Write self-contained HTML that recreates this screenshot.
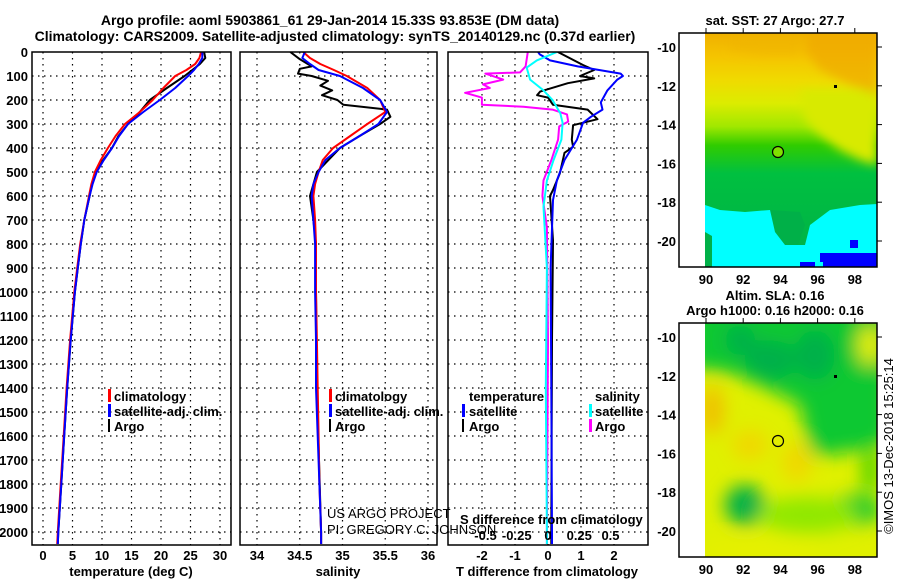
<!DOCTYPE html>
<html><head><meta charset="utf-8">
<style>
html,body{margin:0;padding:0;background:#fff;}
svg{display:block;font-family:"Liberation Sans",Arial,sans-serif;font-weight:bold;}
</style></head>
<body>
<svg id="fig" width="900" height="580" viewBox="0 0 900 580" xmlns="http://www.w3.org/2000/svg">
<defs>
 <clipPath id="c1"><rect x="32" y="52" width="199" height="493"/></clipPath>
 <clipPath id="c2"><rect x="240" y="52" width="197" height="493"/></clipPath>
 <clipPath id="c3"><rect x="448" y="52" width="200" height="493"/></clipPath>
 <clipPath id="m1"><rect x="705" y="33" width="172" height="234"/></clipPath>
 <clipPath id="m2"><rect x="705" y="323" width="172" height="234"/></clipPath>
 <linearGradient id="sstg" x1="0" y1="0" x2="0" y2="1">
  <stop offset="0" stop-color="#f0b000"/><stop offset="0.1" stop-color="#f5c400"/>
  <stop offset="0.2" stop-color="#f0da00"/><stop offset="0.3" stop-color="#dcec00"/>
  <stop offset="0.4" stop-color="#a0e800"/><stop offset="0.48" stop-color="#30cc00"/>
  <stop offset="0.6" stop-color="#00c040"/><stop offset="1" stop-color="#00b048"/>
 </linearGradient>
 <filter id="blur"><feGaussianBlur stdDeviation="9"/></filter>
 <filter id="blur3"><feGaussianBlur stdDeviation="5"/></filter>
</defs>
<g id="titles" font-size="14">
 <text x="330" y="25" text-anchor="middle">Argo profile: aoml 5903861_61 29-Jan-2014 15.33S 93.853E (DM data)</text>
 <text x="335" y="41" text-anchor="middle">Climatology: CARS2009. Satellite-adjusted climatology: synTS_20140129.nc (0.37d earlier)</text>
</g>
<g id="grid"></g>
<g id="lines"></g>
<g id="frames" fill="none" stroke="#000" stroke-width="1.5">
 <rect x="32" y="52" width="199" height="493"/>
 <rect x="240" y="52" width="197" height="493"/>
 <rect x="448" y="52" width="200" height="493"/>
</g>
<g id="axes" font-size="13"></g>
<g id="legends" font-size="13">
 <g>
  <rect x="108" y="389" width="3" height="13" fill="#f00"/><text x="114" y="401">climatology</text>
  <rect x="108" y="404" width="3" height="13" fill="#00f"/><text x="114" y="416">satellite-adj. clim.</text>
  <rect x="108" y="419" width="2" height="13" fill="#000"/><text x="114" y="431">Argo</text>
 </g>
 <g>
  <rect x="329" y="389" width="3" height="13" fill="#f00"/><text x="335" y="401">climatology</text>
  <rect x="329" y="404" width="3" height="13" fill="#00f"/><text x="335" y="416">satellite-adj. clim.</text>
  <rect x="329" y="419" width="2" height="13" fill="#000"/><text x="335" y="431">Argo</text>
 </g>
 <g>
  <text x="469" y="401">temperature</text>
  <rect x="462" y="404" width="3" height="13" fill="#00f"/><text x="469" y="416">satellite</text>
  <rect x="462" y="419" width="2" height="13" fill="#000"/><text x="469" y="431">Argo</text>
  <text x="595" y="401">salinity</text>
  <rect x="589" y="404" width="3" height="13" fill="#0ff"/><text x="595" y="416">satellite</text>
  <rect x="589" y="419" width="3" height="13" fill="#f0f"/><text x="595" y="431">Argo</text>
 </g>
 <g font-weight="normal" font-size="13">
  <text x="327" y="518">US ARGO PROJECT</text>
  <text x="327" y="534">PI: GREGORY C. JOHNSON</text>
 </g>
 <text x="460" y="524">S difference from climatology</text>
</g>

<!-- Map 1 SST -->
<g>
 <text x="775" y="25" text-anchor="middle" font-size="13">sat. SST: 27 Argo: 27.7</text>
 <g clip-path="url(#m1)">
  <rect x="705" y="33" width="172" height="234" fill="url(#sstg)"/>
  <g filter="url(#blur3)">
   <polygon points="800,90 877,90 877,165 860,160 840,150 820,135 805,120" fill="#d8ea00"/>
   <polygon points="810,33 877,33 877,95 850,85 820,70 805,50" fill="#f0a800" opacity="0.7"/>
   <polygon points="730,33 800,33 800,55 760,55 730,50" fill="#f0b400" opacity="0.6"/>
  </g>
  <polygon points="705,205 720,210 745,212 770,210 780,215 775,230 790,245 805,245 810,225 830,210 860,205 877,204 877,267 705,267" fill="#00ffff"/>
  <polygon points="770,210 800,212 805,225 798,245 785,245 775,232" fill="#00b048"/>
  <polygon points="705,232 712,236 712,267 705,267" fill="#00b048"/>
  <rect x="820" y="253" width="57" height="9" fill="#0000ff"/>
  <rect x="850" y="240" width="8" height="8" fill="#0000ff"/>
  <rect x="800" y="262" width="15" height="5" fill="#0000ff"/>
  <rect x="823" y="262" width="54" height="5" fill="#0000ff"/>
  <rect x="834" y="85" width="3" height="3" fill="#000"/>
 </g>
 <circle id="argo-pos-1" cx="778" cy="152" r="5.5" fill="#80e000" stroke="#000" stroke-width="1.2"/>
 <rect x="679" y="33" width="198" height="234" fill="none" stroke="#000" stroke-width="1.5"/>
</g>

<!-- Map 2 SLA -->
<g>
 <text x="775" y="300" text-anchor="middle" font-size="13">Altim. SLA: 0.16</text>
 <text x="775" y="315" text-anchor="middle" font-size="13">Argo h1000: 0.16 h2000: 0.16</text>
 <g clip-path="url(#m2)">
  <rect x="705" y="323" width="172" height="234" fill="#e0f000"/>
  <g filter="url(#blur)">
   <polygon points="690,300 890,300 890,440 860,450 830,455 812,455 805,430 800,405 780,395 760,385 735,375 710,370 690,370" fill="#10c830"/>
   <ellipse cx="770" cy="360" rx="25" ry="20" fill="#00b048"/>
   <ellipse cx="815" cy="355" rx="20" ry="25" fill="#00b048"/>
   <ellipse cx="740" cy="340" rx="15" ry="15" fill="#00b048"/>
   <ellipse cx="745" cy="505" rx="20" ry="20" fill="#00b048"/>
   <ellipse cx="855" cy="510" rx="25" ry="15" fill="#00c830"/>
   <ellipse cx="808" cy="515" rx="50" ry="18" fill="#90e800"/>
   <ellipse cx="870" cy="345" rx="12" ry="20" fill="#e8f000"/>
   <ellipse cx="870" cy="470" rx="8" ry="25" fill="#40d000"/>
   <ellipse cx="712" cy="410" rx="12" ry="25" fill="#f0c000"/>
   <ellipse cx="750" cy="445" rx="18" ry="15" fill="#f0d800"/>
   <ellipse cx="797" cy="462" rx="15" ry="20" fill="#f0d800"/>
   <ellipse cx="760" cy="550" rx="60" ry="8" fill="#e8f000"/>
  </g>
  <rect x="834" y="375" width="3" height="3" fill="#000"/>
 </g>
 <circle cx="778" cy="441" r="5.5" fill="none" stroke="#000" stroke-width="1.2"/>
 <rect x="679" y="323" width="198" height="234" fill="none" stroke="#000" stroke-width="1.5"/>
 <text transform="translate(893,446) rotate(-90)" text-anchor="middle" font-size="13" font-weight="normal">©IMOS 13-Dec-2018 15:25:14</text>
</g>
<g id="mapaxes" font-size="13"></g>

<script>
const NS='http://www.w3.org/2000/svg';
const depthTicks=[0,100,200,300,400,500,600,700,800,900,1000,1100,1200,1300,1400,1500,1600,1700,1800,1900,2000];
const tempTicks=[0,5,10,15,20,25,30];
const salTicks=[34,34.5,35,35.5,36];
const salTickLabels=['34','34.5','35','35.5','36'];
const tDiffTicks=[-2,-1,0,1,2];
const sDiffTicks=[-0.5,-0.25,0,0.25,0.5];
const sDiffLabels=['-0.5','-0.25','0','0.25','0.5'];

const profDepth=[0,25,50,75,100,150,200,250,300,350,400,450,500,550,600,700,800,900,1000,1200,1400,1600,1800,2000,2050];
const tClim=[26.8,26.5,25.8,24.3,22.4,20.4,18.6,16.4,13.9,12.3,11.0,9.8,8.8,8.2,7.8,7.0,6.3,5.8,5.3,4.6,4.0,3.5,3.0,2.5,2.4];
const tSat=[27.0,27.0,26.4,25.6,24.6,22.4,19.8,17.0,14.4,12.9,11.7,10.3,9.1,8.4,7.9,7.0,6.4,5.9,5.4,4.7,4.1,3.6,3.1,2.6,2.5];
const tArgo=[27.3,27.5,26.6,25.3,24.0,21.0,18.1,16.4,14.4,12.8,11.7,10.2,9.0,8.3,7.9,7.0,6.4,5.9,5.4,4.7,4.1,3.6,3.1,2.6,2.5];
const sClim=[34.54,34.62,34.74,34.90,35.05,35.29,35.44,35.50,35.29,35.09,34.89,34.77,34.72,34.68,34.66,34.68,34.69,34.69,34.69,34.70,34.71,34.72,34.73,34.75,34.75];
const sSat=[34.56,34.53,34.62,34.72,34.97,35.24,35.44,35.52,35.42,35.20,34.97,34.80,34.72,34.66,34.64,34.66,34.68,34.68,34.68,34.69,34.69,34.71,34.73,34.75,34.75];
const sArgoDepth=[0,30,60,70,90,100,120,140,160,180,200,220,240,270,300,350,400,500,600,700,800,1000,1400,2000,2050];
const sArgo=[34.39,34.50,34.64,34.50,34.48,34.64,34.83,34.74,34.88,34.76,34.94,35.01,35.52,35.56,35.44,35.20,34.97,34.70,34.62,34.66,34.69,34.69,34.70,34.75,34.75];
const dTArgoDepth=[0,54,75,100,110,130,165,180,190,220,240,280,305,365,395,420,505,575,600,785,1200,2000,2050];
const dTArgo=[0.3,1.06,1.4,0.97,1.4,0.6,-0.24,-0.33,0,0.15,1.2,1.5,0.76,0.72,0.76,0.5,0.36,0.15,0.06,0.15,0.12,0.1,0.1];
const dTSatDepth=[0,10,35,60,90,100,115,160,210,240,270,295,365,450,535,617,900,1400,2000,2050];
const dTSat=[-0.3,-0.25,0.06,0.9,2.2,2.27,2.1,1.8,1.6,1.65,1.3,1.06,0.88,0.5,0.27,0.15,0.08,0.1,0.12,0.12];
const dSArgoDepth=[0,60,85,90,115,135,150,170,190,220,228,240,260,290,310,365,450,535,600,730,1200,2000,2050];
const dSArgo=[-0.18,-0.2,-0.25,-0.56,-0.4,-0.58,-0.52,-0.74,-0.59,-0.59,-0.22,0.04,0.17,0.18,0.1,0.09,0.03,-0.04,-0.05,-0.01,0,-0.01,-0.01];
const dSSatDepth=[0,35,65,115,160,200,255,295,365,450,535,645,900,1400,2000,2050];
const dSSat=[0.08,-0.1,-0.19,-0.16,-0.04,0.04,0.11,0.13,0.12,0.05,-0.01,-0.04,-0.01,-0.02,-0.01,-0.01];
const latTicks=[-10,-12,-14,-16,-18,-20];
const lonTicks=[90,92,94,96,98];

const yD=d=>52+d*0.24;
const xT=t=>43+t*5.9;
const xS=s=>257+(s-34)*85.5;
const xDT=v=>548+v*33;
const xDS=v=>548+v*112;
const xDSLabel=v=>548+v*125;
const mapX=lon=>706+(lon-90)*18.6;
const mapY1=lat=>47+(-10-lat)*19.4;
const mapY2=lat=>337+(-10-lat)*19.4;

function el(tag,attrs,parent,txt){const e=document.createElementNS(NS,tag);for(const k in attrs)e.setAttribute(k,attrs[k]);if(txt!==undefined)e.textContent=txt;parent.appendChild(e);return e;}
const grid=document.getElementById('grid'), lines=document.getElementById('lines'), axes=document.getElementById('axes'), mapaxes=document.getElementById('mapaxes');
const panels=[[32,231],[240,437],[448,648]];
depthTicks.forEach(d=>{
  if(d>0) panels.forEach(p=>{const l=el('line',{x1:p[0],x2:p[1],y1:yD(d),y2:yD(d),stroke:'#000','stroke-dasharray':'1.5,4.5','stroke-width':1.2},grid);
    
    });
  const t=el('text',{x:28,y:yD(d)+5,'text-anchor':'end'},axes,String(d));
  
  
});
function vgrid(x){const l=el('line',{x1:x,x2:x,y1:52,y2:545,stroke:'#000','stroke-dasharray':'1.5,4.5','stroke-width':1.2},grid);
  
  }
tempTicks.forEach(t=>{vgrid(xT(t));const e=el('text',{x:xT(t),y:560,'text-anchor':'middle'},axes,String(t));
  
  });
salTicks.forEach((s,i)=>{vgrid(xS(s));const e=el('text',{x:xS(s),y:560,'text-anchor':'middle'},axes,salTickLabels[i]);
  
  });
tDiffTicks.forEach(v=>{vgrid(xDT(v));const e=el('text',{x:xDT(v),y:560,'text-anchor':'middle'},axes,String(v));
  
  });
sDiffTicks.forEach((v,i)=>{const e=el('text',{x:xDSLabel(v),y:540,'text-anchor':'middle'},axes,sDiffLabels[i]);
  
  });
[['temperature (deg C)',131,'temperature-axis-title'],['salinity',338,'salinity-axis-title'],['T difference from climatology',547,'t-difference-axis-title']].forEach(a=>{
  const e=el('text',{x:a[1],y:576,'text-anchor':'middle'},axes,a[0]);
  
  });

function series(depths,vals,xf,color,clip,name){
  const pts=depths.map((d,i)=>xf(vals[i]).toFixed(1)+','+yD(d).toFixed(1)).join(' ');
  const p=el('polyline',{points:pts,fill:'none',stroke:color,'stroke-width':2,'clip-path':'url(#'+clip+')','stroke-linejoin':'round'},lines);
  
  
}
series(profDepth,tArgo,xT,'#000','c1','temperature-argo-line');
series(profDepth,tClim,xT,'#f00','c1','temperature-climatology-line');
series(profDepth,tSat,xT,'#00f','c1','temperature-satellite-line');
series(sArgoDepth,sArgo,xS,'#000','c2','salinity-argo-line');
series(profDepth,sClim,xS,'#f00','c2','salinity-climatology-line');
series(profDepth,sSat,xS,'#00f','c2','salinity-satellite-line');
series(dSArgoDepth,dSArgo,xDS,'#f0f','c3','s-diff-argo-line');
series(dTArgoDepth,dTArgo,xDT,'#000','c3','t-diff-argo-line');
series(dTSatDepth,dTSat,xDT,'#00f','c3','t-diff-satellite-line');
series(dSSatDepth,dSSat,xDS,'#0ff','c3','s-diff-satellite-line');

[[mapY1,267],[mapY2,557]].forEach(m=>{
  latTicks.forEach(l=>{const y=m[0](l);
    const t=el('text',{x:676,y:y+5,'text-anchor':'end'},mapaxes,String(l));
    
    
    el('line',{x1:877,x2:882,y1:y,y2:y,stroke:'#000'},mapaxes);});
  lonTicks.forEach(l=>{const x=mapX(l);
    const t=el('text',{x:x,y:m[1]+17,'text-anchor':'middle'},mapaxes,String(l));
    
    
    el('line',{x1:x,x2:x,y1:m[1]-234,y2:m[1]-239,stroke:'#000'},mapaxes);});
});
</script>
</svg>
</body></html>
